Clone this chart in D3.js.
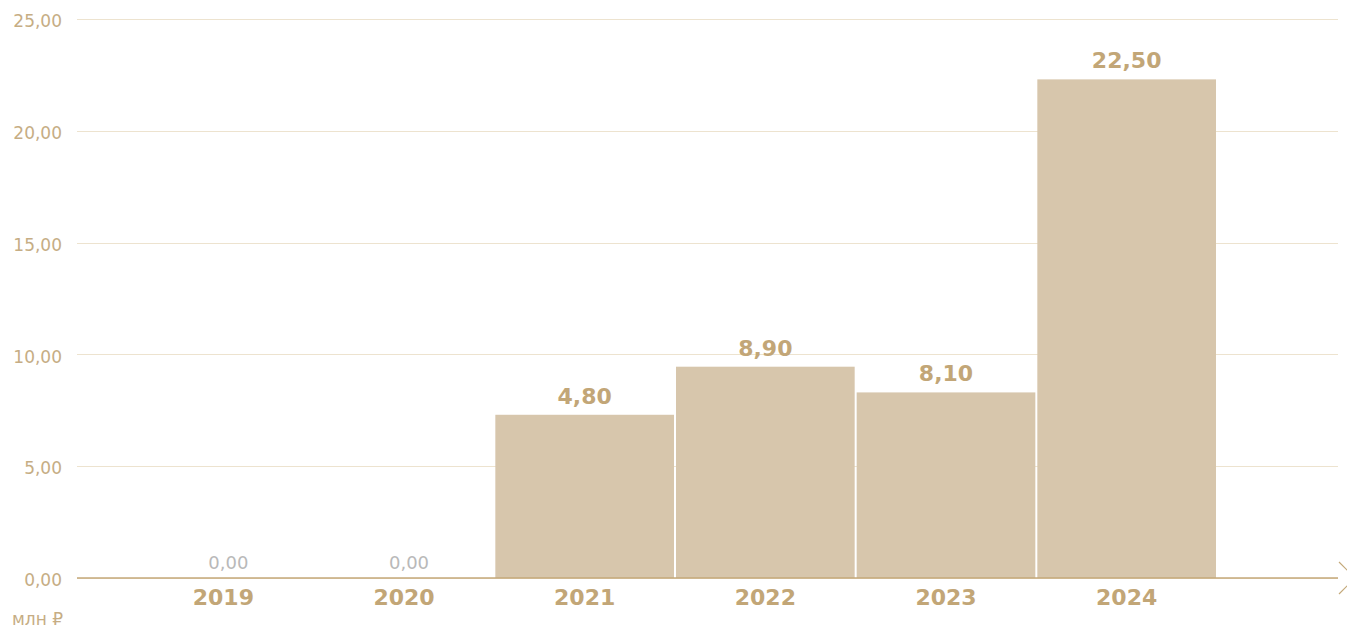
<!DOCTYPE html>
<html>
<head>
<meta charset="utf-8">
<script src="https://cdn.jsdelivr.net/npm/d3@7"></script>
<style>
  body { margin: 0; background: #fff; }
  svg { display: block; }
  .tick-label { font-family: "DejaVu Sans", sans-serif; font-size: 17px; fill: #c6ad84; }
  .year-label { font-family: "DejaVu Sans", sans-serif; font-size: 22px; font-weight: bold; fill: #c2a677; }
  .value-label { font-family: "DejaVu Sans", sans-serif; font-size: 22px; font-weight: bold; fill: #c2a677; }
  .zero-label { font-family: "DejaVu Sans", sans-serif; font-size: 18px; fill: #b9b9b9; }
  .unit-label { font-family: "DejaVu Sans", sans-serif; font-size: 17px; fill: #c6ad84; }
</style>
</head>
<body>
<div id="chart"></div>
<script>
// chart data
const years = ["2019", "2020", "2021", "2022", "2023", "2024"];
// bar heights as drawn in the picture
const barValues = [0, 0, 7.3, 9.45, 8.3, 22.3];
// printed labels above the bars
const valueLabels = ["0,00", "0,00", "4,80", "8,90", "8,10", "22,50"];
const yTicks = [0, 5, 10, 15, 20, 25];
const unitText = "млн ₽";

const width = 1347, height = 630;
const plotLeft = 77, plotRight = 1338;
const yTop = 19, yBottom = 578;

const svg = d3.select("#chart").append("svg")
    .attr("width", width)
    .attr("height", height);

const x = d3.scaleBand()
    .domain(years)
    .range([134, 1216])
    .paddingInner(0.011)
    .paddingOuter(0);

const y = d3.scaleLinear()
    .domain([0, 25])
    .range([yBottom, yTop]);

const fmt = d => d.toFixed(2).replace(".", ",");

// grid lines
const yAxis = d3.axisLeft(y)
    .tickValues(yTicks)
    .tickSize(-(plotRight - plotLeft))
    .tickPadding(15)
    .tickFormat(fmt);

const yAxisG = svg.append("g")
    .attr("transform", `translate(${plotLeft},0)`)
    .call(yAxis);
yAxisG.select(".domain").remove();
yAxisG.selectAll(".tick line")
    .attr("stroke", "#ede3cf")
    .attr("stroke-width", 1)
    .attr("shape-rendering", "crispEdges");
yAxisG.selectAll(".tick text")
    .attr("class", "tick-label")
    .attr("fill", null)
    .attr("dy", "0.45em");
yAxisG.attr("font-size", null).attr("font-family", null);

const rows = years.map((yr, i) => ({ year: yr, value: barValues[i], label: valueLabels[i] }));

// bars
svg.append("g").selectAll("rect")
    .data(rows)
    .join("rect")
    .attr("x", d => x(d.year))
    .attr("y", d => y(d.value))
    .attr("width", x.bandwidth())
    .attr("height", d => y(0) - y(d.value))
    .attr("fill", "#d7c6ac");

// baseline
svg.append("line")
    .attr("x1", plotLeft)
    .attr("x2", plotRight)
    .attr("y1", y(0))
    .attr("y2", y(0))
    .attr("stroke", "#c4a97a")
    .attr("stroke-width", 1.5);

// arrow at the end of the axis
svg.append("path")
    .attr("d", `M${plotRight + 1},${y(0) - 16}L${plotRight + 17},${y(0)}L${plotRight + 1},${y(0) + 16}`)
    .attr("fill", "none")
    .attr("stroke", "#c4a97a")
    .attr("stroke-width", 1.2);

// value labels
svg.append("g").selectAll("text")
    .data(rows)
    .join("text")
    .attr("class", d => d.value === 0 ? "zero-label" : "value-label")
    .attr("x", d => x(d.year) + x.bandwidth() / 2 + (d.value === 0 ? 5 : 0))
    .attr("y", d => d.value === 0 ? y(0) - 9 : y(d.value) - 11)
    .attr("text-anchor", "middle")
    .text(d => d.label);

// year labels
svg.append("g").selectAll("text")
    .data(years)
    .join("text")
    .attr("class", "year-label")
    .attr("x", d => x(d) + x.bandwidth() / 2)
    .attr("y", 605)
    .attr("text-anchor", "middle")
    .text(d => d);

// unit label
svg.append("text")
    .attr("class", "unit-label")
    .attr("x", 12)
    .attr("y", 625)
    .text(unitText);
</script>
</body>
</html>
